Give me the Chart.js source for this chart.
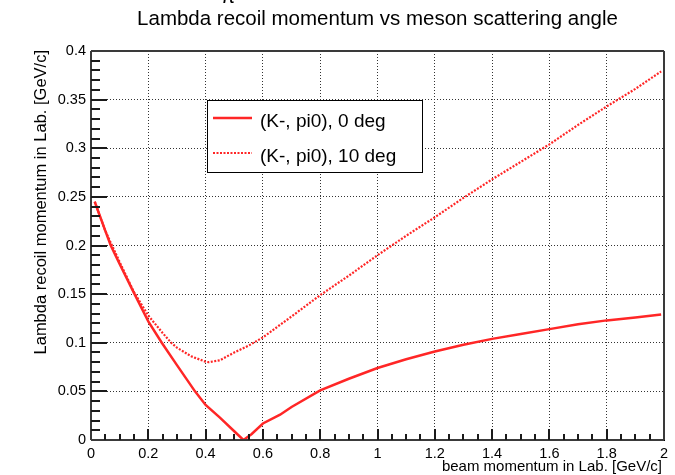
<!DOCTYPE html>
<html>
<head>
<meta charset="utf-8">
<script src="https://cdn.jsdelivr.net/npm/chart.js@4.4.1/dist/chart.umd.min.js"></script>
<style>
  html, body { margin: 0; padding: 0; background: #fff; }
  #wrap { width: 675px; height: 475px; }
</style>
</head>
<body>
<div id="wrap"><canvas id="recoil" width="675" height="475"></canvas></div>
<script>
// --- DATA ---
const seriesNames = ['(K-, pi0), 0 deg', '(K-, pi0), 10 deg'];

// (K-, pi0) at 0 deg
const beamP0 = [0.013, 0.05, 0.069, 0.1, 0.152, 0.2, 0.247, 0.3, 0.363, 0.4, 0.45, 0.5, 0.532,
                0.56, 0.6, 0.66, 0.7, 0.8, 0.9, 1.0, 1.1, 1.2, 1.3, 1.4, 1.5, 1.6, 1.7, 1.8, 1.9, 1.99];
const recoil0 = [0.245, 0.215, 0.200, 0.181, 0.150, 0.122, 0.100, 0.077, 0.050, 0.036, 0.023, 0.009, 0.0,
                 0.006, 0.017, 0.026, 0.034, 0.051, 0.063, 0.074, 0.083, 0.091, 0.098, 0.104, 0.109, 0.114, 0.119, 0.123, 0.126, 0.129];

// (K-, pi0) at 10 deg
const beamP10 = [0.013, 0.05, 0.1, 0.15, 0.2, 0.25, 0.28, 0.3, 0.35, 0.4, 0.41, 0.45, 0.5, 0.55, 0.6,
                 0.7, 0.8, 0.9, 1.0, 1.1, 1.2, 1.3, 1.4, 1.5, 1.6, 1.7, 1.8, 1.9, 1.99];
const recoil10 = [0.245, 0.215, 0.183, 0.152, 0.128, 0.110, 0.100, 0.095, 0.086, 0.0805, 0.080, 0.082, 0.090, 0.097, 0.1055,
                  0.127, 0.149, 0.169, 0.190, 0.210, 0.229, 0.249, 0.268, 0.286, 0.304, 0.324, 0.343, 0.361, 0.379];

const xTickLabels = ['0', '0.2', '0.4', '0.6', '0.8', '1', '1.2', '1.4', '1.6', '1.8', '2'];
const yTickLabels = ['0', '0.05', '0.1', '0.15', '0.2', '0.25', '0.3', '0.35', '0.4'];

const FONT = '"Liberation Sans", Arial, Helvetica, sans-serif';
const RED = '#ff2626';

function toPoints(xs, ys) {
    return xs.map((x, i) => ({ x: x, y: ys[i] }));
}

// --- FRAME, INWARD TICKS, TITLES, LEGEND (ROOT canvas look) ---
const rootDecor = {
    id: 'rootDecor',
    afterDraw(chart) {
        const c = chart.ctx;
        const a = chart.chartArea;
        const xs = chart.scales.x, ys = chart.scales.y;
        const L = Math.round(a.left), R = Math.round(a.right), T = Math.round(a.top), B = Math.round(a.bottom);
        c.save();

        // frame
        c.setLineDash([]);
        c.fillStyle = '#3a3a3a';
        c.fillRect(L, T - 1, R - L, 2);
        c.fillRect(L, B - 1, R - L, 2);
        c.fillRect(L - 1, T, 2, B - T);
        c.fillRect(R - 1, T, 2, B - T);

        // y ticks: minor every 0.01, major every 0.05
        c.fillStyle = '#1a1a1a';
        for (let k = 1; k < 40; k++) {
            const py = Math.round(ys.getPixelForValue(k / 100));
            const len = (k % 5 === 0) ? 16 : 9;
            c.fillRect(L, py - 1, len, 2);
        }
        // x ticks: minor every 0.05, major every 0.2
        for (let k = 1; k < 40; k++) {
            const px = Math.round(xs.getPixelForValue(k / 20));
            const len = (k % 4 === 0) ? 11 : 6;
            c.fillRect(px - 1, B - len, 2, len);
        }

        // titles
        c.fillStyle = '#000';
        c.font = '20.5px ' + FONT;
        c.textAlign = 'center';
        c.textBaseline = 'alphabetic';
        c.fillText('Lambda recoil momentum vs meson scattering angle', (a.left + a.right) / 2, 25);
        c.fillText('\u03C0', 228, 3);

        c.font = '15px ' + FONT;
        c.textAlign = 'right';
        c.fillText('beam momentum in Lab. [GeV/c]', R - 2, 471);

        c.save();
        c.translate(41, T - 1);
        c.rotate(-Math.PI / 2);
        c.font = '16.5px ' + FONT;
        c.textAlign = 'right';
        c.textBaseline = 'middle';
        c.fillText('Lambda recoil momentum in Lab. [GeV/c]', 0, 0);
        c.restore();

        // legend box
        const box = { x: 207, y: 100, w: 215, h: 72 };
        c.fillStyle = '#fff';
        c.fillRect(box.x, box.y, box.w, box.h);
        c.strokeStyle = '#000';
        c.lineWidth = 1;
        c.strokeRect(box.x + 0.5, box.y + 0.5, box.w, box.h);

        const rows = [118, 153];
        chart.data.datasets.forEach((ds, i) => {
            c.strokeStyle = ds.borderColor;
            c.lineWidth = ds.borderWidth;
            c.setLineDash(ds.borderDash || []);
            c.beginPath();
            c.moveTo(213, rows[i]);
            c.lineTo(252, rows[i]);
            c.stroke();
            c.setLineDash([]);
            c.fillStyle = '#000';
            c.font = '19px ' + FONT;
            c.textAlign = 'left';
            c.textBaseline = 'middle';
            c.fillText(ds.label, 260, rows[i] + 4);
        });

        c.restore();
    }
};

// --- CHART ---
const ctx = document.getElementById('recoil').getContext('2d');
new Chart(ctx, {
    type: 'line',
    data: {
        datasets: [{
            label: seriesNames[0],
            data: toPoints(beamP0, recoil0),
            borderColor: RED,
            borderWidth: 2.5,
            pointRadius: 0,
            tension: 0,
            fill: false
        }, {
            label: seriesNames[1],
            data: toPoints(beamP10, recoil10),
            borderColor: RED,
            borderWidth: 2.2,
            borderDash: [2, 1.5],
            pointRadius: 0,
            tension: 0,
            fill: false
        }]
    },
    options: {
        responsive: false,
        animation: false,
        events: [],
        layout: { padding: { top: 51, right: 11, left: 0, bottom: 0 } },
        plugins: {
            legend: { display: false },
            title: { display: false },
            tooltip: { enabled: false }
        },
        scales: {
            x: {
                type: 'linear',
                min: 0,
                max: 2,
                afterFit: s => { s.height = 35; },
                ticks: {
                    stepSize: 0.2,
                    autoSkip: false,
                    maxRotation: 0,
                    padding: 5,
                    color: '#000',
                    font: { family: FONT, size: 14.5 },
                    callback: (v, i) => xTickLabels[i]
                },
                grid: { color: '#333', lineWidth: 1, drawTicks: false },
                border: { display: true, color: '#000', width: 1, dash: [1, 2] }
            },
            y: {
                type: 'linear',
                min: 0,
                max: 0.4,
                afterFit: s => { s.width = 91; },
                ticks: {
                    stepSize: 0.05,
                    autoSkip: false,
                    padding: 5,
                    color: '#000',
                    font: { family: FONT, size: 14.5 },
                    callback: (v, i) => yTickLabels[i]
                },
                grid: { color: '#333', lineWidth: 1, drawTicks: false },
                border: { display: true, color: '#000', width: 1, dash: [1, 2] }
            }
        }
    },
    plugins: [rootDecor]
});
</script>
</body>
</html>
